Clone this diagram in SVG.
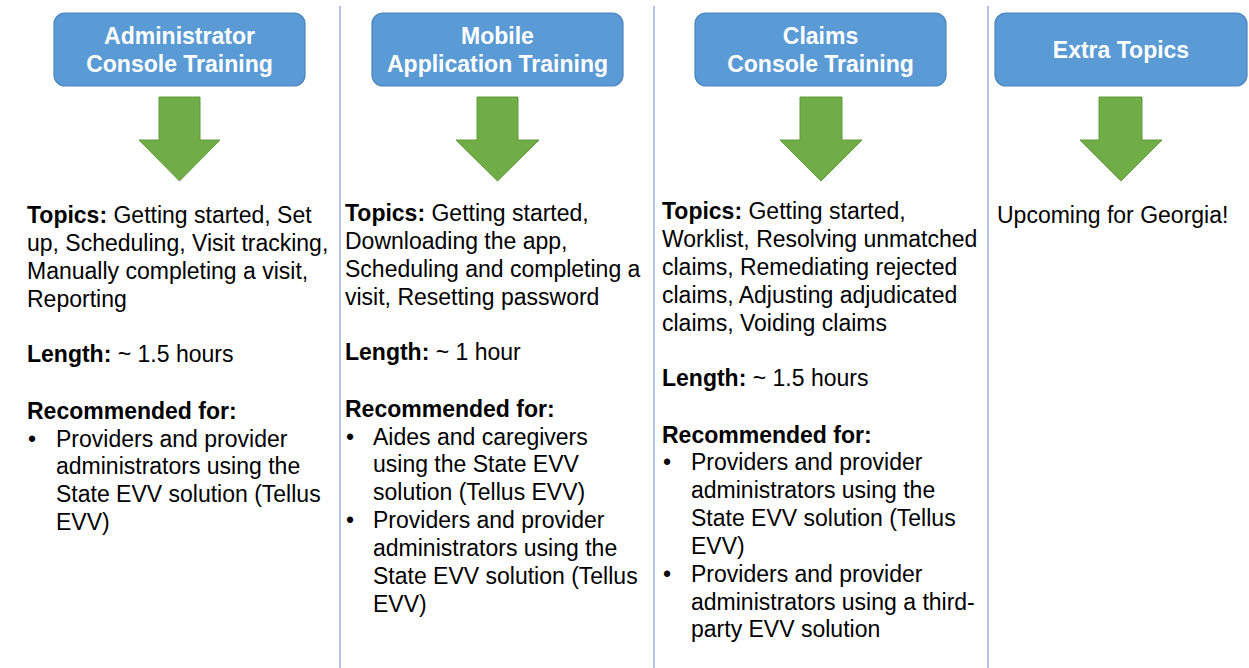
<svg xmlns="http://www.w3.org/2000/svg" width="1249" height="668" viewBox="0 0 1249 668">
<style>
.box{fill:#5B9BD5;stroke:#4A84BC;stroke-width:1.2}
.bt{font-family:"Liberation Sans",Arial,sans-serif;font-size:23px;font-weight:bold;fill:#fff;text-anchor:middle}
.arr{fill:#70AD47;stroke:#5F9A3B;stroke-width:1}
.sep{stroke:#B4C7E7;stroke-width:2}
.tx{font-family:"Liberation Sans",Arial,sans-serif;font-size:23px;fill:#000}
.b{font-weight:bold}
</style>
<rect width="1249" height="668" fill="#fff"/>
<g id="connectors">
<line class="sep" x1="340" y1="6" x2="340" y2="668"/>
<line class="sep" x1="654" y1="6" x2="654" y2="668"/>
<line class="sep" x1="988" y1="6" x2="988" y2="668"/>
<polygon class="arr" points="159,97 200,97 200,140 220,140 179.5,181 139,140 159,140"/>
<polygon class="arr" points="477,97 518,97 518,140 539,140 497.5,181 456,140 477,140"/>
<polygon class="arr" points="800,97 842,97 842,140 862,140 821,181 780,140 800,140"/>
<polygon class="arr" points="1099,97 1142,97 1142,140 1162,140 1121,181 1080,140 1099,140"/>
</g>
<g id="node-admin">
<rect class="box" x="54" y="13" width="251" height="73" rx="11"/>
<text class="bt" x="179.5" y="44">Administrator</text>
<text class="bt" x="179.5" y="72">Console Training</text>
</g>
<g id="node-mobile">
<rect class="box" x="372" y="13" width="251" height="73" rx="11"/>
<text class="bt" x="497.5" y="44">Mobile</text>
<text class="bt" x="497.5" y="72">Application Training</text>
</g>
<g id="node-claims">
<rect class="box" x="695" y="13" width="251" height="73" rx="11"/>
<text class="bt" x="820.5" y="44">Claims</text>
<text class="bt" x="820.5" y="72">Console Training</text>
</g>
<g id="node-extra">
<rect class="box" x="995" y="13" width="252" height="73" rx="11"/>
<text class="bt" x="1121" y="58">Extra Topics</text>
</g>
<g id="text-admin" class="tx">
<text x="27" y="223"><tspan class="b">Topics:</tspan> Getting started, Set</text>
<text x="27" y="251">up, Scheduling, Visit tracking,</text>
<text x="27" y="279">Manually completing a visit,</text>
<text x="27" y="307">Reporting</text>
<text x="27" y="362"><tspan class="b">Length:</tspan> ~ 1.5 hours</text>
<text x="27" y="419" class="b">Recommended for:</text>
<text x="28" y="447">•</text>
<text x="56" y="447">Providers and provider</text>
<text x="56" y="474">administrators using the</text>
<text x="56" y="502">State EVV solution (Tellus</text>
<text x="56" y="530">EVV)</text>
</g>
<g id="text-mobile" class="tx">
<text x="345" y="221"><tspan class="b">Topics:</tspan> Getting started,</text>
<text x="345" y="249">Downloading the app,</text>
<text x="345" y="277">Scheduling and completing a</text>
<text x="345" y="305">visit, Resetting password</text>
<text x="345" y="360"><tspan class="b">Length:</tspan> ~ 1 hour</text>
<text x="345" y="417" class="b">Recommended for:</text>
<text x="346" y="445">•</text>
<text x="373" y="445">Aides and caregivers</text>
<text x="373" y="472">using the State EVV</text>
<text x="373" y="500">solution (Tellus EVV)</text>
<text x="346" y="528">•</text>
<text x="373" y="528">Providers and provider</text>
<text x="373" y="556">administrators using the</text>
<text x="373" y="584">State EVV solution (Tellus</text>
<text x="373" y="612">EVV)</text>
</g>
<g id="text-claims" class="tx">
<text x="662" y="219"><tspan class="b">Topics:</tspan> Getting started,</text>
<text x="662" y="247">Worklist, Resolving unmatched</text>
<text x="662" y="275">claims, Remediating rejected</text>
<text x="662" y="303">claims, Adjusting adjudicated</text>
<text x="662" y="331">claims, Voiding claims</text>
<text x="662" y="386"><tspan class="b">Length:</tspan> ~ 1.5 hours</text>
<text x="662" y="443" class="b">Recommended for:</text>
<text x="663" y="470">•</text>
<text x="691" y="470">Providers and provider</text>
<text x="691" y="498">administrators using the</text>
<text x="691" y="526">State EVV solution (Tellus</text>
<text x="691" y="554">EVV)</text>
<text x="663" y="582">•</text>
<text x="691" y="582">Providers and provider</text>
<text x="691" y="610">administrators using a third-</text>
<text x="691" y="637">party EVV solution</text>
</g>
<g id="text-extra" class="tx">
<text x="997" y="223">Upcoming for Georgia!</text>
</g>
</svg>
